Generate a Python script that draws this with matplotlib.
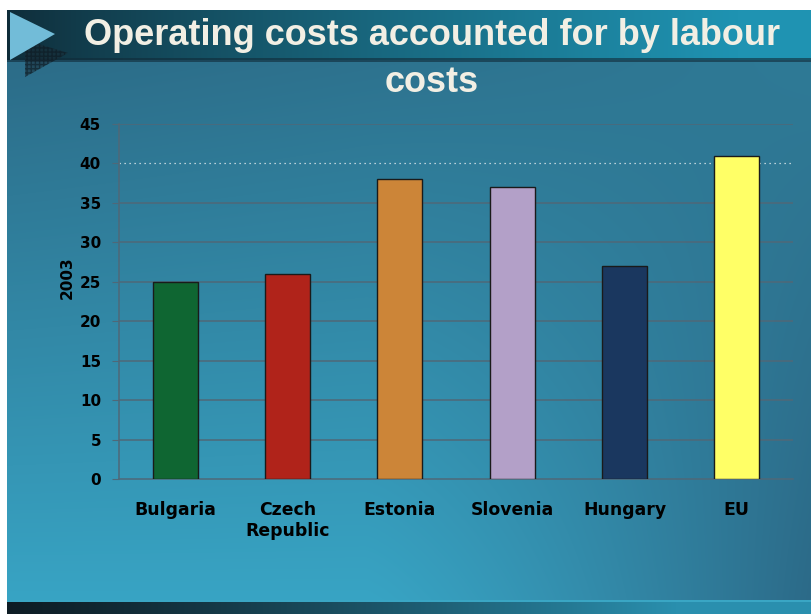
import numpy as np
import matplotlib.pyplot as plt
from matplotlib.patches import Polygon

countries = ["Bulgaria", "Czech\nRepublic", "Estonia", "Slovenia", "Hungary", "EU"]
share_2003 = [25, 26, 38, 37, 27, 41]
bar_colors = ["#0f6632", "#b0231a", "#cc8538", "#b3a0c8", "#1a375f", "#ffff66"]
yticks = [0, 5, 10, 15, 20, 25, 30, 35, 40, 45]

W, H = 811, 614
fig = plt.figure(figsize=(W / 100, H / 100), dpi=100)
fig.patch.set_facecolor("white")


def mix(c1, c2, t):
    c1 = np.array(c1)[None, None, :]
    c2 = np.array(c2)[None, None, :]
    t = t[..., None]
    return c1 * (1 - t) + c2 * t


def hexrgb(h):
    h = h.lstrip("#")
    return [int(h[i:i + 2], 16) / 255 for i in (0, 2, 4)]


# slide background: body gradient, title band, footer band
yy, xx = np.mgrid[0:H, 0:W].astype(float)
tx = xx / W
ty = np.clip((yy - 62) / (600 - 62), 0, 1)
top = mix(hexrgb("#2c6c88"), hexrgb("#2f7a96"), tx)
bot = mix(hexrgb("#38a4c4"), hexrgb("#2c6a88"), np.clip((tx - 0.45) / 0.55, 0, 1) ** 1.3)
img = top * (1 - ty[..., None]) + bot * ty[..., None]

band = (yy >= 10) & (yy < 60)
head = mix(hexrgb("#0f2a36"), hexrgb("#1f93b2"), np.clip(tx * 1.1, 0, 1) ** 0.8)
img[band] = head[band]
edge = (yy >= 58) & (yy < 62)
img[edge] = (np.array(hexrgb("#102a38")) * 0.6 + img[edge] * 0.4)

foot = yy >= 601
fimg = mix(hexrgb("#0e1c24"), hexrgb("#2a8fae"), np.clip(tx * 1.2, 0, 1) ** 1.2)
img[foot] = fimg[foot]
img[(yy >= 600) & (yy < 602)] = hexrgb("#3aa6c4")

img[yy < 10] = 1.0
img[xx < 7] = 1.0

bg = fig.add_axes([0, 0, 1, 1], zorder=-10)
bg.imshow(img, extent=[0, W, H, 0], aspect="auto", interpolation="bilinear")
bg.set_xlim(0, W)
bg.set_ylim(H, 0)
bg.axis("off")

# arrow glyph at top-left with a checkered shadow
shadow = Polygon([[25, 40], [25, 77], [68, 53]], closed=True,
                 facecolor="#1a2c36", edgecolor="#0c1820", linewidth=0,
                 hatch="++++", alpha=0.55)
bg.add_patch(shadow)
tri = Polygon([[10, 12], [10, 60], [55, 34]], closed=True,
              facecolor="#72bcd8", edgecolor="none")
bg.add_patch(tri)

title_font = dict(family="Liberation Sans", weight="bold", color="#f2efe4", fontsize=26)
fig.text(432 / W, 1 - 45 / H, "Operating costs accounted for by labour",
         ha="center", va="baseline", **title_font)
fig.text(432 / W, 1 - 92 / H, "costs", ha="center", va="baseline", **title_font)

# chart
ax = fig.add_axes([119 / W, 1 - 479 / H, (793 - 119) / W, (479 - 124) / H])
ax.patch.set_alpha(0)
x = np.arange(len(countries))
ax.bar(x, share_2003, width=0.4, color=bar_colors, edgecolor="#1a1a1a",
       linewidth=1.0, zorder=3)
ax.set_xlim(-0.5, len(countries) - 0.5)
ax.set_ylim(0, 45)
ax.set_yticks(yticks)
grid_col = "#4f6878"
for v in yticks[1:]:
    if v == 40:
        ax.axhline(v, color="#e8eef0", linestyle=(0, (1, 3)), linewidth=0.9, zorder=1)
    else:
        ax.axhline(v, color=grid_col, linewidth=1.1, zorder=1)

ax.set_xticks(x)
ax.set_xticklabels(countries, fontsize=12.4, fontweight="bold", linespacing=1.2)
ax.tick_params(axis="x", length=0, pad=16)
ax.tick_params(axis="y", length=5, color=grid_col, labelsize=11, pad=8)
for lab in ax.get_yticklabels():
    lab.set_fontweight("bold")
ax.set_ylabel("2003", fontsize=11, fontweight="bold")
ax.yaxis.set_label_coords(-0.065, 0.566)

for side in ("top", "right"):
    ax.spines[side].set_visible(False)
for side in ("left", "bottom"):
    ax.spines[side].set_color(grid_col)
    ax.spines[side].set_linewidth(1.1)

fig.savefig("out.png", dpi=100)
